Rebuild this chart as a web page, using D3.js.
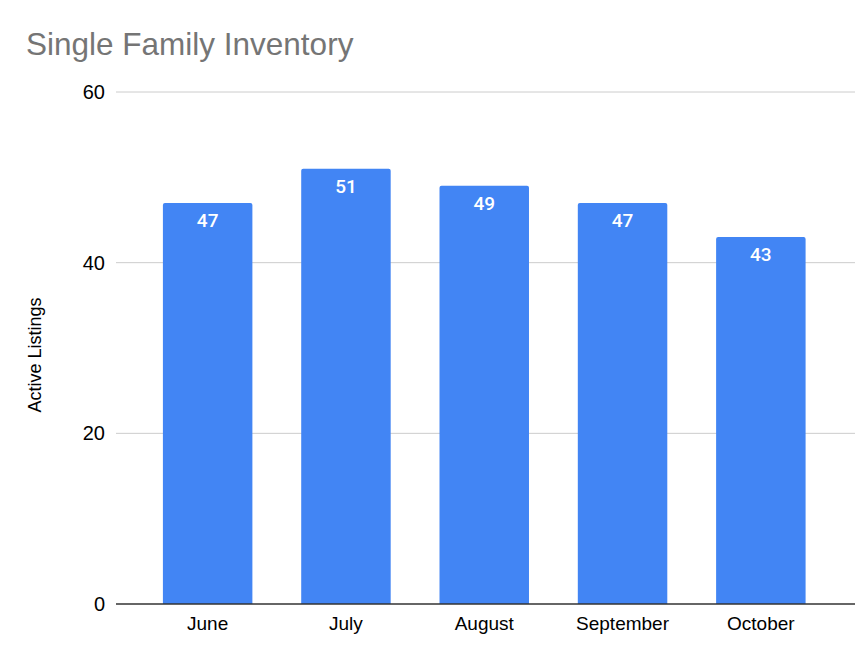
<!DOCTYPE html>
<html><head><meta charset="utf-8">
<script src="https://cdn.jsdelivr.net/npm/d3@7"></script>
<style>body{margin:0;background:#fff}svg{display:block}</style>
</head><body>
<script>
const categories = ["June","July","August","September","October"];
const values = [47,51,49,47,43];
const yTicks = [0,20,40,60];
const title = "Single Family Inventory";
const yLabel = "Active Listings";

const W=855,H=657;
const svg=d3.select("body").append("svg").attr("width",W).attr("height",H);
const y=d3.scaleLinear().domain([0,60]).range([604,92]);
const x=d3.scaleBand().domain(categories).range([138.5,830]).paddingInner(0.353).paddingOuter(0.1765);
const font="Liberation Sans, Arial, sans-serif";

svg.append("text").attr("x",26).attr("y",55).attr("font-family",font).attr("font-size",31.5).attr("fill","#757575").text(title);

svg.selectAll(".grid").data(yTicks.filter(d=>d>0)).enter().append("line")
 .attr("x1",116).attr("x2",855).attr("y1",d=>y(d)).attr("y2",d=>y(d)).attr("stroke","#cccccc").attr("stroke-width",1);

svg.selectAll(".yt").data(yTicks).enter().append("text")
 .attr("x",105).attr("y",d=>y(d)).attr("dy","0.35em").attr("text-anchor","end")
 .attr("font-family",font).attr("font-size",20).attr("fill","#000").text(d=>d);

svg.append("text").attr("transform","translate(41,355) rotate(-90)").attr("text-anchor","middle")
 .attr("font-family",font).attr("font-size",18).attr("fill","#000").text(yLabel);

const r=2;
svg.selectAll(".bar").data(values).enter().append("path")
 .attr("fill","#4285F4")
 .attr("d",(d,i)=>{const x0=x(categories[i]),w=x.bandwidth(),y0=y(d),y1=y(0);
   return `M${x0},${y1}V${y0+r}Q${x0},${y0} ${x0+r},${y0}H${x0+w-r}Q${x0+w},${y0} ${x0+w},${y0+r}V${y1}Z`;});

svg.selectAll(".lbl").data(values).enter().append("text")
 .attr("x",(d,i)=>x(categories[i])+x.bandwidth()/2).attr("y",d=>y(d)+24)
 .attr("text-anchor","middle").attr("font-family","Roboto, sans-serif").attr("font-weight",500)
 .attr("font-size",19).attr("fill","#fff").text(d=>d);

svg.append("line").attr("x1",116).attr("x2",855).attr("y1",y(0)).attr("y2",y(0)).attr("stroke","#333").attr("stroke-width",1.5);

svg.selectAll(".xt").data(categories).enter().append("text")
 .attr("x",d=>x(d)+x.bandwidth()/2).attr("y",630).attr("text-anchor","middle")
 .attr("font-family",font).attr("font-size",19).attr("fill","#000").text(d=>d);
</script>
</body></html>
